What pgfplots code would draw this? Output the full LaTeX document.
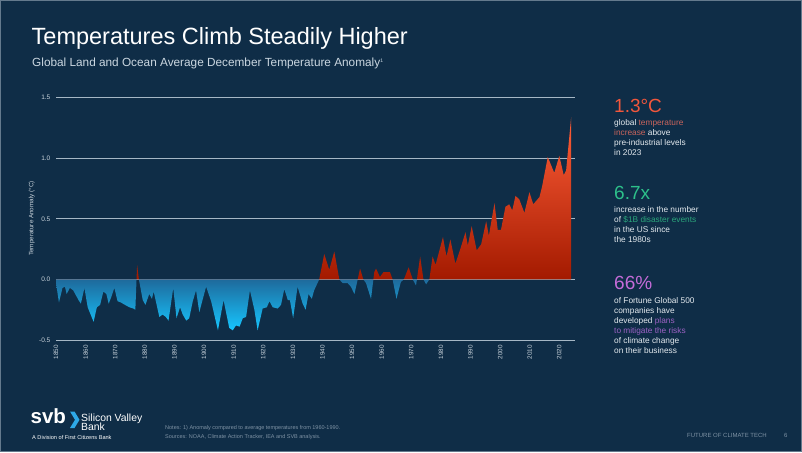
\documentclass[border=0pt]{standalone}
\usepackage{pgfplots}
\pgfplotsset{compat=1.18}
\usepackage{fontspec}
\setmainfont{Liberation Sans}
\definecolor{bg}{HTML}{0F2D47}
\definecolor{gridc}{HTML}{A6B7C5}
\definecolor{tickc}{HTML}{C9D3DB}
\definecolor{redtop}{HTML}{FF5E38}
\definecolor{redmid}{HTML}{F04A24}
\definecolor{redbot}{HTML}{A31A00}
\definecolor{bluetop}{HTML}{1E6A9C}
\definecolor{bluemid}{HTML}{12B8F2}
\definecolor{bluebot}{HTML}{16C6FF}
\definecolor{hotc}{HTML}{F2573C}
\definecolor{hotsoft}{HTML}{C9645C}
\definecolor{grn}{HTML}{2DC08A}
\definecolor{grnsoft}{HTML}{2BA67C}
\definecolor{pur}{HTML}{C46BD8}
\definecolor{pursoft}{HTML}{9C62C4}
\definecolor{body}{HTML}{E4EAEF}
\definecolor{subc}{HTML}{CBD7E1}
\definecolor{notec}{HTML}{7E92A4}
\definecolor{svbcyan}{HTML}{2EA9E8}
\definecolor{framec}{HTML}{647A8D}
\begin{document}
\begin{tikzpicture}[x=1pt,y=1pt]
\begin{axis}[
  set layers,
  at={(56pt,-340pt)}, anchor=south west,
  width=519pt, height=242.3pt, scale only axis,
  xmin=1850, xmax=2025.3, ymin=-0.5, ymax=1.5,
  axis line style={draw=none},
  major tick length=0pt,
  ytick={-0.5,0,0.5,1,1.5},
  xtick={1850,1860,...,2020},
  ymajorgrids, major grid style={draw=gridc,line width=0.8pt},
  /pgf/number format/assume math mode=true,
  yticklabel style={font=\fontsize{6.5}{7}\selectfont, color=tickc, /pgf/number format/fixed, /pgf/number format/fixed zerofill, /pgf/number format/precision=1, inner sep=0pt, xshift=-5.5pt},
  xticklabel style={font=\fontsize{6.3}{7}\selectfont, color=tickc, rotate=90, anchor=east, inner sep=0pt, xshift=-5pt, /pgf/number format/1000 sep={}},
  clip=false,
]
\begin{pgfonlayer}{axis background}
\fill[bg] (rel axis cs:-0.10790,-0.46223) rectangle (rel axis cs:1.43738,1.40322);
\end{pgfonlayer}
% negative anomalies (below 0)
\addplot[draw=none, top color=bluetop, middle color=bluemid, bottom color=bluebot] coordinates {
(1850.0,-0.03) (1851.0,-0.19) (1852.2,-0.07) (1853.0,-0.06) (1853.6,-0.12) (1854.7,-0.07) (1855.8,-0.09)
(1857.6,-0.17) (1858.4,-0.20) (1859.6,-0.07) (1860.7,-0.23) (1862.7,-0.35) (1863.8,-0.23) (1864.9,-0.21)
(1866.0,-0.10) (1867.0,-0.12) (1867.8,-0.20) (1868.6,-0.15) (1869.7,-0.07) (1870.8,-0.18) (1871.9,-0.19)
(1873.3,-0.21) (1874.8,-0.23) (1876.1,-0.24) (1876.8,-0.25) (1877.2,0) (1878.0,0) (1879.3,-0.17)
(1880.2,-0.21) (1881.5,-0.12) (1882.4,-0.16) (1883.0,-0.10) (1884.9,-0.31) (1886.0,-0.29) (1887.1,-0.31)
(1888.0,-0.34) (1889.6,-0.07) (1890.7,-0.32) (1891.9,-0.23) (1892.8,-0.29) (1894.0,-0.34) (1895.0,-0.32)
(1896.2,-0.18) (1897.3,-0.09) (1898.4,-0.27) (1900.7,-0.06) (1902.4,-0.18) (1904.7,-0.42) (1906.6,-0.17)
(1908.5,-0.40) (1909.7,-0.42) (1910.8,-0.38) (1912.0,-0.39) (1913.1,-0.32) (1914.2,-0.31) (1915.5,-0.09)
(1917.0,-0.25) (1918.1,-0.42) (1919.8,-0.24) (1921.2,-0.23) (1922.1,-0.18) (1923.2,-0.23) (1924.9,-0.24)
(1926.0,-0.21) (1927.1,-0.08) (1928.3,-0.17) (1929.0,-0.17) (1930.1,-0.32) (1931.6,-0.06) (1933.3,-0.20)
(1934.3,-0.25) (1935.3,-0.12) (1936.4,-0.16) (1937.2,-0.09) (1938.9,0) (1945.7,0) (1946.8,-0.03)
(1948.5,-0.03) (1949.6,-0.06) (1950.8,-0.12) (1951.9,0) (1953.8,0) (1954.7,-0.03) (1956.4,-0.16)
(1957.2,0) (1963.7,0) (1965.0,-0.16) (1966.5,-0.02) (1967.5,0) (1970.5,0) (1971.6,-0.05) (1971.9,0)
(1974.1,0) (1975.0,-0.04) (1976.1,0) (2024.0,0)
} -- (axis cs:1850,0) -- cycle;
% positive anomalies (above 0)
\addplot[draw=none, top color=redtop, middle color=redmid, bottom color=redbot] coordinates {
(1850.0,0) (1877.2,0) (1877.4,0.12) (1878.0,0) (1938.9,0) (1940.6,0.21) (1942.3,0.08) (1944.0,0.23)
(1945.7,0) (1951.9,0) (1952.7,0.09) (1953.8,0) (1957.2,0) (1957.5,0.06) (1958.1,0.09) (1959.4,0.02)
(1960.6,0.06) (1961.7,0.06) (1962.8,0.06) (1963.7,0) (1967.5,0) (1969.1,0.10) (1970.5,0) (1971.9,0)
(1973.0,0.19) (1974.1,0) (1976.1,0) (1977.2,0.19) (1978.2,0.12) (1980.7,0.35) (1981.9,0.19) (1983.2,0.33)
(1984.9,0.13) (1986.8,0.27) (1988.3,0.39) (1989.1,0.28) (1990.4,0.44) (1992.1,0.24) (1993.6,0.29)
(1995.3,0.48) (1996.2,0.36) (1998.1,0.63) (1999.2,0.41) (2000.3,0.41) (2001.8,0.60) (2003.1,0.62)
(2004.1,0.57) (2005.2,0.69) (2006.5,0.66) (2008.2,0.55) (2009.9,0.72) (2011.2,0.62) (2013.3,0.68)
(2014.2,0.77) (2016.1,1.01) (2018.3,0.88) (2020.0,1.02) (2021.5,0.86) (2022.3,0.90) (2024.0,1.34)
} -- (axis cs:2024,0) -- cycle;
\end{axis}
\draw[framec,line width=1.2pt] (0.6,-0.6) rectangle (801.4,-451.4);
% titles
\node[anchor=base west,inner sep=0,white,font=\fontsize{23.5}{26}\selectfont] at (31.5,-44.3) {Temperatures Climb Steadily Higher};
\node[anchor=base west,inner sep=0,subc,font=\fontsize{11.8}{13}\selectfont] at (32,-66.7) {Global Land and Ocean Average December Temperature Anomaly\textsuperscript{\fontsize{5}{5}\selectfont1}};
% y label
\node[rotate=90,inner sep=0,tickc,font=\fontsize{6.3}{7}\selectfont] at (31.7,-218.5) {Temperature Anomaly (°C)};
% right panel
\begin{scope}[every node/.style={anchor=base west,inner sep=0}]
\node[hotc,font=\fontsize{19}{20}\selectfont] at (614,-112) {1.3°C};
\node[body,font=\fontsize{8.3}{10}\selectfont] at (614,-125.7) {global \textcolor{hotsoft}{temperature}};
\node[body,font=\fontsize{8.3}{10}\selectfont] at (614,-135.7) {\textcolor{hotsoft}{increase} above};
\node[body,font=\fontsize{8.3}{10}\selectfont] at (614,-145.7) {pre-industrial levels};
\node[body,font=\fontsize{8.3}{10}\selectfont] at (614,-155.7) {in 2023};
\node[grn,font=\fontsize{19}{20}\selectfont] at (614,-199) {6.7x};
\node[body,font=\fontsize{8.3}{10}\selectfont] at (614,-212) {increase in the number};
\node[body,font=\fontsize{8.3}{10}\selectfont] at (614,-222) {of \textcolor{grnsoft}{\$1B disaster events}};
\node[body,font=\fontsize{8.3}{10}\selectfont] at (614,-232) {in the US since};
\node[body,font=\fontsize{8.3}{10}\selectfont] at (614,-242) {the 1980s};
\node[pur,font=\fontsize{19}{20}\selectfont] at (614,-289) {66\%};
\node[body,font=\fontsize{8.3}{10}\selectfont] at (614,-303) {of Fortune Global 500};
\node[body,font=\fontsize{8.3}{10}\selectfont] at (614,-313) {companies have};
\node[body,font=\fontsize{8.3}{10}\selectfont] at (614,-323) {developed \textcolor{pursoft}{plans}};
\node[body,font=\fontsize{8.3}{10}\selectfont] at (614,-333) {\textcolor{pursoft}{to mitigate the risks}};
\node[body,font=\fontsize{8.3}{10}\selectfont] at (614,-343) {of climate change};
\node[body,font=\fontsize{8.3}{10}\selectfont] at (614,-353) {on their business};
% footer
\node[white,font=\bfseries\fontsize{20.5}{21}\selectfont] at (30.5,-423.5) {svb};
\node[white,font=\fontsize{10.4}{11}\selectfont] at (81,-421) {Silicon Valley};
\node[white,font=\fontsize{10.4}{11}\selectfont] at (81,-430) {Bank};
\node[white,font=\fontsize{5.6}{6}\selectfont] at (32,-439.5) {A Division of First Citizens Bank};
\node[notec,font=\fontsize{5.5}{6}\selectfont] at (165,-429.5) {Notes: 1) Anomaly compared to average temperatures from 1960-1990.};
\node[notec,font=\fontsize{5.5}{6}\selectfont] at (165,-438.5) {Sources: NOAA, Climate Action Tracker, IEA and SVB analysis.};
\node[notec,font=\fontsize{6}{7}\selectfont] at (687,-437) {FUTURE OF CLIMATE TECH};
\node[notec,font=\fontsize{6}{7}\selectfont] at (784,-437) {6};
\end{scope}
\fill[svbcyan] (70,-411.5) -- (74.5,-411.5) -- (79.5,-419.8) -- (74.5,-428) -- (70,-428) -- (75,-419.8) -- cycle;
\end{tikzpicture}
\end{document}
